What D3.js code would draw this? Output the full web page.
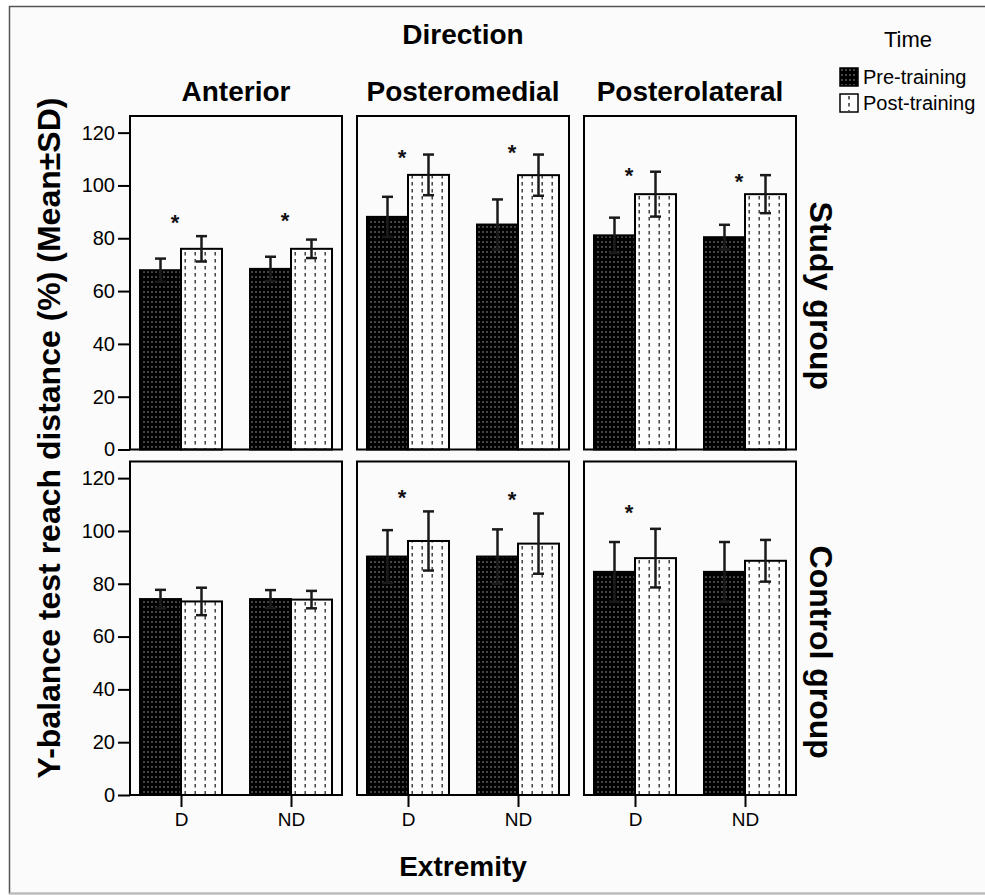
<!DOCTYPE html>
<html>
<head>
<meta charset="utf-8">
<script src="https://cdn.jsdelivr.net/npm/d3@7"></script>
<style>
  body { margin: 0; background: #fff; }
  svg { display: block; font-family: "Liberation Sans", Arial, sans-serif; }
</style>
</head>
<body>
<div id="viz-container"></div>
<script>
// facet levels
const directions = ["Anterior", "Posteromedial", "Posterolateral"];
const groups = ["Study group", "Control group"];
const extremities = ["D", "ND"];
const times = ["Pre-training", "Post-training"];

// values in order: Anterior D, Anterior ND, Posteromedial D, Posteromedial ND, Posterolateral D, Posterolateral ND
const studyPre = [67.9, 68.4, 88.1, 85.2, 81.1, 80.4];
const studyPreSD = [4.4, 4.6, 7.6, 9.5, 6.7, 4.7];
const studyPost = [76.0, 76.0, 104.0, 103.9, 96.7, 96.7];
const studyPostSD = [4.8, 3.5, 7.7, 7.8, 8.5, 7.2];

const controlPre = [74.2, 74.2, 90.3, 90.3, 84.5, 84.5];
const controlPreSD = [3.5, 3.4, 10.0, 10.3, 11.3, 11.3];
const controlPost = [73.3, 74.0, 96.2, 95.2, 89.7, 88.7];
const controlPostSD = [5.2, 3.3, 11.2, 11.4, 11.1, 7.9];

// height (in %) where the significance star sits, null = no star
const studyStars = [87.5, 88.6, 112.1, 114.0, 105.4, 103.1];
const controlStars = [null, null, 114.4, 113.8, 108.5, null];

const yTicks = [0, 20, 40, 60, 80, 100, 120];

const width = 985, height = 895;

// build cells from the arrays
const series = {
    "Study group": { pre: studyPre, preSD: studyPreSD, post: studyPost, postSD: studyPostSD, stars: studyStars },
    "Control group": { pre: controlPre, preSD: controlPreSD, post: controlPost, postSD: controlPostSD, stars: controlStars }
};
const cells = [];
groups.forEach(g => {
    directions.forEach((dir, di) => {
        extremities.forEach((ext, ei) => {
            const k = di * 2 + ei, s = series[g];
            cells.push({ group: g, dir, ext, time: times[0], value: s.pre[k], sd: s.preSD[k], star: s.stars[k] });
            cells.push({ group: g, dir, ext, time: times[1], value: s.post[k], sd: s.postSD[k], star: null });
        });
    });
});

const svg = d3.select("#viz-container")
    .append("svg")
    .attr("width", width)
    .attr("height", height);

// background + outer frame
svg.append("rect").attr("width", width).attr("height", height).attr("fill", "#fff");
svg.append("rect")
    .attr("x", 9.5).attr("y", 6.5)
    .attr("width", width).attr("height", 887)
    .attr("fill", "#fbfbfb")
    .attr("stroke", "#555").attr("stroke-width", 1.5);
svg.append("line")
    .attr("x1", 9).attr("x2", width).attr("y1", 893.5).attr("y2", 893.5)
    .attr("stroke", "#bbb").attr("stroke-width", 1.5);

// patterns
const defs = svg.append("defs");
const pPre = defs.append("pattern")
    .attr("id", "pat-pre").attr("patternUnits", "userSpaceOnUse")
    .attr("width", 4).attr("height", 5);
pPre.append("rect").attr("width", 4).attr("height", 5).attr("fill", "#000");
pPre.append("rect").attr("x", 1.5).attr("y", 1).attr("width", 1).attr("height", 2).attr("fill", "#8a8a8a");

const pPost = defs.append("pattern")
    .attr("id", "pat-post").attr("patternUnits", "userSpaceOnUse")
    .attr("width", 10).attr("height", 7);
pPost.append("rect").attr("width", 10).attr("height", 7).attr("fill", "#fdfdfd");
pPost.append("rect").attr("x", 4.5).attr("y", 0).attr("width", 1.4).attr("height", 3.5).attr("fill", "#333");

const fillFor = t => t === times[0] ? "url(#pat-pre)" : "url(#pat-post)";

// scales
const xCol = d3.scaleBand().domain(directions).range([130, 796]).paddingInner(15 / 227);
const yRow = d3.scaleBand().domain(groups).range([116, 795]).paddingInner(0.0347);
const xExt = d3.scalePoint().domain(extremities).range([0, xCol.bandwidth()]).padding(0.4636);
const xTime = d3.scaleBand().domain(times).range([-41, 41]);
const yFor = g => d3.scaleLinear().domain([0, 126.3])
    .range([yRow(g) + yRow.bandwidth(), yRow(g)]);

const panels = svg.append("g").attr("class", "panels");

groups.forEach((g, gi) => {
    const y = yFor(g);
    directions.forEach((dir, di) => {
        const x0 = xCol(dir);
        const pg = panels.append("g").attr("transform", `translate(${x0},0)`);
        const data = cells.filter(c => c.group === g && c.dir === dir);

        // bars
        pg.selectAll("rect.bar")
            .data(data)
            .join("rect")
            .attr("class", "bar")
            .attr("x", d => xExt(d.ext) + xTime(d.time))
            .attr("y", d => y(d.value))
            .attr("width", xTime.bandwidth())
            .attr("height", d => y(0) - y(d.value))
            .attr("fill", d => fillFor(d.time))
            .attr("stroke", "#000")
            .attr("stroke-width", 2);

        // error bars
        const eb = pg.selectAll("g.err")
            .data(data)
            .join("g")
            .attr("class", "err")
            .attr("transform", d => `translate(${xExt(d.ext) + xTime(d.time) + xTime.bandwidth() / 2},0)`);
        eb.append("line")
            .attr("y1", d => y(d.value - d.sd)).attr("y2", d => y(d.value + d.sd))
            .attr("stroke", "#1a1a1a").attr("stroke-width", 2.5);
        [1, -1].forEach(sgn => {
            eb.append("line")
                .attr("x1", -5.5).attr("x2", 5.5)
                .attr("y1", d => y(d.value + sgn * d.sd)).attr("y2", d => y(d.value + sgn * d.sd))
                .attr("stroke", "#1a1a1a").attr("stroke-width", 2.5);
        });

        // significance stars
        pg.selectAll("text.star")
            .data(data.filter(d => d.star != null))
            .join("text")
            .attr("class", "star")
            .attr("x", d => xExt(d.ext) - 6)
            .attr("y", d => y(d.star) + 12)
            .attr("text-anchor", "middle")
            .attr("font-size", 22)
            .attr("font-weight", "bold")
            .attr("fill", "#111")
            .text("*");

        // panel frame
        pg.append("rect")
            .attr("x", 0).attr("y", yRow(g))
            .attr("width", xCol.bandwidth()).attr("height", yRow.bandwidth())
            .attr("fill", "none").attr("stroke", "#000").attr("stroke-width", 2);

        // y axis on first column
        if (di === 0) {
            const ax = pg.append("g")
                .call(d3.axisLeft(y).tickValues(yTicks).tickSize(12).tickPadding(3).tickFormat(d3.format("d")));
            ax.select(".domain").remove();
            ax.selectAll(".tick line").attr("stroke", "#000").attr("stroke-width", 2);
            ax.selectAll(".tick text").attr("font-size", 20).attr("fill", "#000")
                .attr("font-family", "Liberation Sans, Arial, sans-serif");
        }
        // x axis on bottom row
        if (gi === groups.length - 1) {
            const ax = pg.append("g")
                .attr("transform", `translate(0,${y(0)})`)
                .call(d3.axisBottom(xExt).tickSize(12).tickPadding(6));
            ax.select(".domain").remove();
            ax.selectAll(".tick line").attr("stroke", "#000").attr("stroke-width", 2);
            ax.selectAll(".tick text").attr("font-size", 19).attr("fill", "#000")
                .attr("font-family", "Liberation Sans, Arial, sans-serif");
        }
    });

    // row label, sits a bit below the row centre as in the original
    const cy = yRow(g) + yRow.bandwidth() / 2 + (gi === 0 ? 13 : 24);
    svg.append("text")
        .attr("transform", `translate(810,${cy}) rotate(90)`)
        .attr("text-anchor", "middle")
        .attr("font-size", 32).attr("font-weight", "bold")
        .text(g);
});

// column titles
svg.selectAll("text.coltitle")
    .data(directions)
    .join("text")
    .attr("class", "coltitle")
    .attr("x", d => xCol(d) + xCol.bandwidth() / 2)
    .attr("y", 101)
    .attr("text-anchor", "middle")
    .attr("font-size", 28).attr("font-weight", "bold")
    .text(d => d);

svg.append("text")
    .attr("x", 463).attr("y", 44)
    .attr("text-anchor", "middle")
    .attr("font-size", 28).attr("font-weight", "bold")
    .text("Direction");

svg.append("text")
    .attr("x", 463).attr("y", 876)
    .attr("text-anchor", "middle")
    .attr("font-size", 28).attr("font-weight", "bold")
    .text("Extremity");

svg.append("text")
    .attr("transform", "translate(60,438) rotate(-90)")
    .attr("text-anchor", "middle")
    .attr("font-size", 32).attr("font-weight", "bold")
    .text("Y-balance test reach distance (%) (Mean±SD)");

// legend
const legend = svg.append("g").attr("class", "legend");
legend.append("text")
    .attr("x", 908).attr("y", 47)
    .attr("text-anchor", "middle")
    .attr("font-size", 22)
    .text("Time");
const li = legend.selectAll("g.item")
    .data(times)
    .join("g")
    .attr("class", "item")
    .attr("transform", (d, i) => `translate(840,${68 + i * 26})`);
li.append("rect")
    .attr("width", 18).attr("height", 18)
    .attr("fill", d => d === times[0] ? "url(#pat-pre)" : "#fdfdfd")
    .attr("stroke", "#000").attr("stroke-width", 1.5);
li.filter(d => d === times[1]).append("line")
    .attr("x1", 9).attr("x2", 9).attr("y1", 2).attr("y2", 17)
    .attr("stroke", "#333").attr("stroke-width", 1.5).attr("stroke-dasharray", "3.5,3.5");
li.append("text")
    .attr("x", 23).attr("y", 16)
    .attr("font-size", 20)
    .text(d => d);
</script>
</body>
</html>
